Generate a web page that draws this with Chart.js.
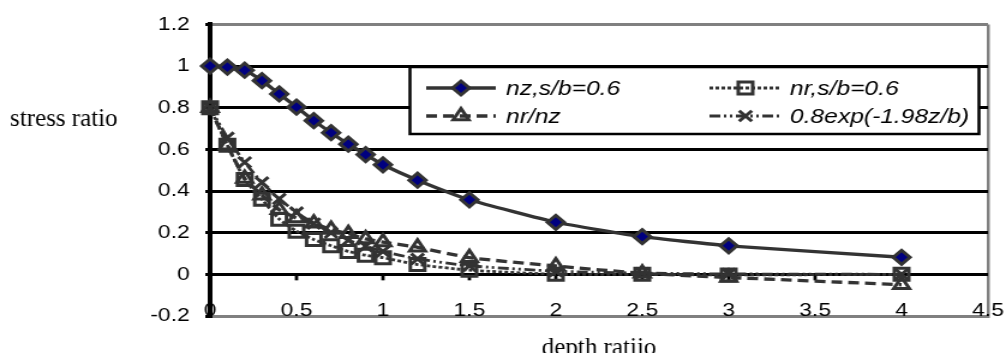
<!DOCTYPE html>
<html>
<head>
<meta charset="utf-8">
<script src="https://cdn.jsdelivr.net/npm/chart.js@4/dist/chart.umd.min.js"></script>
<style>
    html, body { margin: 0; padding: 0; background: #fff; overflow: hidden; }
    #chart { display: block; }
</style>
</head>
<body>
<canvas id="chart" width="838" height="353" style="width:1006px;height:353px"></canvas>
<script>
// depth ratio (z/b) where each series was sampled
const depth = [0, 0.1, 0.2, 0.3, 0.4, 0.5, 0.6, 0.7, 0.8, 0.9, 1, 1.2, 1.5, 2, 2.5, 3, 4];

// values
const nzVals = [1.0, 0.995, 0.98, 0.93, 0.866, 0.803, 0.738, 0.68, 0.625, 0.575, 0.526, 0.452, 0.358, 0.25, 0.181, 0.137, 0.082];
const nrVals = [0.8, 0.62, 0.455, 0.36, 0.265, 0.207, 0.167, 0.137, 0.11, 0.092, 0.08, 0.047, 0.02, 0.0, 0.0, -0.003, 0.0];
const ratioVals = [0.8, 0.62, 0.46, 0.38, 0.31, 0.27, 0.245, 0.215, 0.195, 0.17, 0.155, 0.13, 0.08, 0.04, 0.005, -0.015, -0.05];
const expVals = [0.8, 0.656, 0.538, 0.441, 0.362, 0.297, 0.244, 0.2, 0.164, 0.135, 0.11, 0.074, 0.041, 0.015, 0.006, 0.002, 0.0];

const seriesNames = ['nz,s/b=0.6', 'nr,s/b=0.6', 'nr/nz', '0.8exp(-1.98z/b)'];
const xTickLabels = ['0', '0.5', '1', '1.5', '2', '2.5', '3', '3.5', '4', '4.5'];
const yTickLabels = ['-0.2', '0', '0.2', '0.4', '0.6', '0.8', '1', '1.2'];
const yTitle = 'stress ratio';
const xTitle = 'depth ratijo';

// the original picture is stretched sideways, so the canvas is too
const STRETCH = 1006 / 838;
const LINE = '#333333';
const sansFont = '"Liberation Sans", Arial, sans-serif';
const serifFont = '"Liberation Serif", "Times New Roman", serif';

function toPoints(vals) {
    return depth.map((d, i) => ({ x: d, y: vals[i] }));
}

function near(a, b) {
    return Math.abs(a - b) < 1e-6;
}

const extras = {
    id: 'extras',
    beforeDatasetsDraw(chart) {
        // small ticks hanging under the zero line
        const ctx = chart.ctx;
        const xs = chart.scales.x;
        const y0 = chart.scales.y.getPixelForValue(0);
        ctx.save();
        ctx.strokeStyle = '#000';
        ctx.lineWidth = 2.8;
        xs.ticks.forEach(t => {
            if (t.value > 0 && t.value < 4.4) {
                const px = xs.getPixelForValue(t.value);
                ctx.beginPath();
                ctx.moveTo(px, y0);
                ctx.lineTo(px, y0 + 6);
                ctx.stroke();
            }
        });
        ctx.restore();
    },
    afterDatasetsDraw(chart) {
        const ctx = chart.ctx;
        // legend box
        ctx.save();
        ctx.fillStyle = '#fff';
        ctx.fillRect(341.5, 67, 474, 67);
        ctx.strokeStyle = '#000';
        ctx.lineWidth = 2.5;
        ctx.strokeRect(341.5, 67, 474, 67);

        const slots = [
            { x1: 355, x2: 413, tx: 421.5, y: 88 },
            { x1: 591, x2: 651, tx: 658, y: 88 },
            { x1: 355, x2: 413, tx: 421.5, y: 116 },
            { x1: 591, x2: 651, tx: 658, y: 116 }
        ];
        chart.data.datasets.forEach((ds, i) => {
            const s = slots[i];
            ctx.strokeStyle = ds.borderColor;
            ctx.lineWidth = ds.borderWidth;
            ctx.setLineDash(ds.borderDash || []);
            ctx.beginPath();
            ctx.moveTo(s.x1, s.y);
            ctx.lineTo(s.x2, s.y);
            ctx.stroke();
            ctx.setLineDash([]);
            ctx.fillStyle = ds.pointBackgroundColor;
            ctx.strokeStyle = ds.pointBorderColor;
            ctx.lineWidth = ds.pointBorderWidth;
            if (Chart.helpers && Chart.helpers.drawPoint) {
                Chart.helpers.drawPoint(ctx, {
                    pointStyle: ds.pointStyle,
                    radius: ds.pointRadius,
                    borderWidth: ds.pointBorderWidth,
                    rotation: 0
                }, (s.x1 + s.x2) / 2, s.y);
            }
            ctx.fillStyle = '#000';
            ctx.font = 'italic 20.5px ' + sansFont;
            ctx.textAlign = 'left';
            ctx.textBaseline = 'middle';
            ctx.fillText(ds.label, s.tx, s.y + 1);
        });
        ctx.restore();
    },
    afterDraw(chart) {
        // axis titles sit outside the stretched picture, so undo the stretch
        const ctx = chart.ctx;
        ctx.save();
        ctx.scale(1 / STRETCH, 1);
        ctx.fillStyle = '#000';
        ctx.font = '25px ' + serifFont;
        ctx.textBaseline = 'alphabetic';
        ctx.textAlign = 'left';
        ctx.fillText(yTitle, 10, 126);
        ctx.textAlign = 'center';
        const xa = chart.chartArea;
        ctx.fillText(xTitle, (xa.left + xa.right) / 2 * STRETCH, 355);
        ctx.restore();
    }
};

const ctx = document.getElementById('chart').getContext('2d');
new Chart(ctx, {
    type: 'line',
    data: {
        datasets: [
            {
                label: seriesNames[0],
                data: toPoints(nzVals),
                borderColor: LINE,
                borderWidth: 3.3,
                pointStyle: 'rectRot',
                pointRadius: 7,
                pointBackgroundColor: '#000080',
                pointBorderColor: LINE,
                pointBorderWidth: 3,
                clip: false
            },
            {
                label: seriesNames[1],
                data: toPoints(nrVals),
                borderColor: LINE,
                borderWidth: 2.8,
                borderDash: [3, 2],
                pointStyle: 'rect',
                pointRadius: 8.5,
                pointBackgroundColor: 'rgba(255,255,255,0)',
                pointBorderColor: LINE,
                pointBorderWidth: 3,
                clip: false
            },
            {
                label: seriesNames[2],
                data: toPoints(ratioVals),
                borderColor: LINE,
                borderWidth: 3.3,
                borderDash: [9, 5],
                pointStyle: 'triangle',
                pointRadius: 7.5,
                pointBackgroundColor: 'rgba(255,255,255,0)',
                pointBorderColor: LINE,
                pointBorderWidth: 3,
                clip: false
            },
            {
                label: seriesNames[3],
                data: toPoints(expVals),
                borderColor: LINE,
                borderWidth: 2.8,
                borderDash: [9, 3, 2, 3, 2, 3],
                pointStyle: 'crossRot',
                pointRadius: 7.5,
                pointBackgroundColor: LINE,
                pointBorderColor: LINE,
                pointBorderWidth: 3,
                clip: false
            }
        ]
    },
    options: {
        responsive: false,
        maintainAspectRatio: false,
        devicePixelRatio: 1,
        animation: false,
        layout: { padding: { left: 0, right: 15, top: 20, bottom: 0 } },
        elements: { line: { tension: 0.15 } },
        plugins: {
            legend: { display: false },
            tooltip: { enabled: false }
        },
        scales: {
            x: {
                type: 'linear',
                min: 0,
                max: 4.5,
                afterFit: scale => { scale.height = 37; },
                ticks: {
                    stepSize: 0.5,
                    mirror: true,
                    padding: -6.5,
                    color: '#000',
                    font: { family: sansFont, size: 19 },
                    maxRotation: 0,
                    callback: (v, i) => xTickLabels[i]
                },
                grid: {
                    drawTicks: false,
                    lineWidth: 2.5,
                    color: c => (c.tick && near(c.tick.value, 4.5)) ? '#808080' : 'rgba(0,0,0,0)'
                },
                border: { color: '#808080', width: 3 }
            },
            y: {
                min: -0.2,
                max: 1.2,
                afterFit: scale => { scale.width = 175; },
                ticks: {
                    stepSize: 0.2,
                    padding: 13,
                    color: '#000',
                    font: { family: sansFont, size: 19 },
                    callback: (v, i) => yTickLabels[i]
                },
                grid: {
                    lineWidth: 3,
                    tickLength: 4,
                    tickWidth: 3,
                    tickColor: '#000',
                    color: c => (c.tick && (near(c.tick.value, 1.2) || near(c.tick.value, -0.2))) ? '#808080' : '#000'
                },
                border: { color: '#000', width: 4 }
            }
        }
    },
    plugins: [extras]
});
</script>
</body>
</html>
